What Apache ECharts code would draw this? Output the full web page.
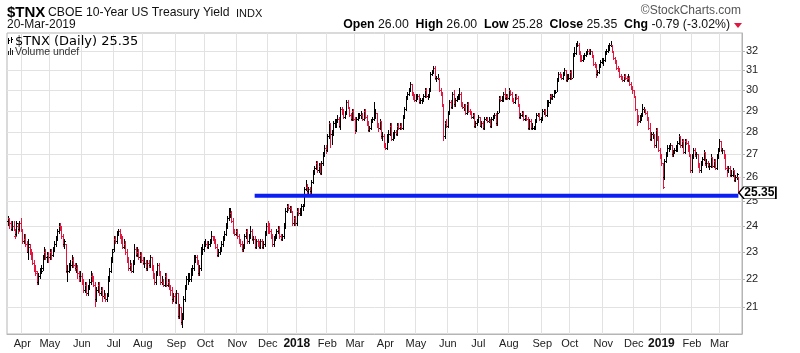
<!DOCTYPE html>
<html><head><meta charset="utf-8">
<script src="https://cdn.jsdelivr.net/npm/echarts@6/dist/echarts.min.js"></script>
<style>html,body{margin:0;padding:0;background:#fff}#c{width:800px;height:353px}</style>
</head><body><div id="c"></div>
<script>
// OHLC bars per month: [open, high, low, close]
const mar17=[[24.2,24.4,24.0,24.3],[24.3,24.3,23.9,24.1],[24.1,24.2,23.8,23.9],[23.9,24.2,23.8,24.0],[24.0,24.2,23.8,23.9],[23.6,23.9,23.5,23.6],[23.7,24.2,23.6,24.1],[24.0,24.1,23.7,23.8],[23.9,24.2,23.8,24.1],[24.1,24.3,23.8,23.9]];
const apr17=[[23.8,23.9,23.3,23.4],[23.4,23.7,23.3,23.5],[23.5,23.7,23.2,23.3],[23.3,23.4,23.0,23.2],[23.0,23.5,22.7,23.3],[23.2,23.3,22.9,23.0],[23.0,23.1,22.7,22.9],[22.9,23.0,22.5,22.6],[22.6,22.7,22.3,22.4],[22.3,22.5,22.1,22.3],[22.2,22.3,21.8,21.9],[21.9,22.2,21.8,22.1],[22.1,22.4,22.0,22.2],[22.3,22.5,22.2,22.3],[22.4,22.9,22.3,22.8],[22.8,23.2,22.7,23.0],[23.0,23.1,22.7,22.8],[22.8,23.0,22.6,22.9],[22.9,23.0,22.6,22.8]];
const may17=[[22.8,23.1,22.7,23.0],[23.0,23.1,22.7,22.9],[22.9,23.2,22.8,23.1],[23.1,23.4,23.0,23.3],[23.3,23.6,23.2,23.5],[23.5,23.9,23.4,23.8],[23.8,24.1,23.7,24.0],[24.0,24.1,23.8,23.9],[23.9,24.0,23.5,23.6],[23.6,23.7,23.2,23.3],[23.3,23.5,23.1,23.4],[23.3,23.3,22.2,22.3],[22.3,22.5,21.9,22.3],[22.3,22.6,22.2,22.4],[22.4,22.7,22.3,22.5],[22.5,22.9,22.4,22.7],[22.7,22.8,22.4,22.5],[22.5,22.6,22.3,22.4],[22.4,22.6,22.2,22.4],[22.4,22.5,22.0,22.2],[22.2,22.3,21.9,22.1],[22.1,22.3,21.9,22.1]];
const jun17=[[22.1,22.2,21.8,21.9],[21.9,22.0,21.5,21.6],[21.6,21.9,21.5,21.8],[21.8,21.9,21.4,21.5],[21.5,21.8,21.4,21.7],[21.7,22.0,21.6,21.9],[21.9,22.3,21.8,22.1],[22.1,22.2,21.9,22.0],[22.0,22.1,21.7,21.8],[21.8,21.9,21.0,21.3],[21.3,21.7,21.2,21.6],[21.6,21.9,21.5,21.8],[21.8,21.9,21.4,21.5],[21.5,21.7,21.4,21.6],[21.6,21.7,21.2,21.4],[21.4,21.6,21.3,21.4],[21.4,21.5,21.2,21.3],[21.3,21.5,21.2,21.4],[21.4,22.1,21.4,22.0],[22.0,22.4,21.9,22.3],[22.3,22.8,22.2,22.7],[22.7,23.1,22.6,23.0]];
const jul17=[[23.1,23.6,23.0,23.5],[23.5,23.6,23.3,23.4],[23.4,23.8,23.3,23.7],[23.7,23.9,23.6,23.8],[23.8,23.9,23.5,23.6],[23.6,23.7,23.3,23.5],[23.5,23.6,23.1,23.2],[23.2,23.5,23.1,23.3],[23.3,23.4,22.9,23.0],[23.0,23.1,22.6,22.7],[22.7,22.8,22.3,22.4],[22.4,22.7,22.3,22.5],[22.5,22.6,22.2,22.3],[22.3,22.7,22.2,22.6],[22.6,23.3,22.5,23.1],[23.1,23.2,22.8,22.9],[22.9,23.2,22.8,23.0],[23.0,23.1,22.7,22.8],[22.8,23.0,22.6,22.9],[22.9,23.0,22.6,22.7]];
const aug17=[[22.7,22.8,22.5,22.6],[22.6,22.8,22.4,22.6],[22.6,22.7,22.3,22.4],[22.4,22.7,22.3,22.6],[22.6,22.7,22.4,22.5],[22.5,22.9,22.4,22.8],[22.8,22.8,22.3,22.4],[22.4,22.5,22.0,22.1],[22.1,22.2,21.8,21.9],[21.9,22.3,21.8,22.2],[22.2,22.6,22.1,22.5],[22.5,22.6,22.1,22.2],[22.2,22.3,21.8,21.9],[21.9,22.1,21.8,21.9],[21.9,22.0,21.7,21.8],[21.8,22.2,21.7,22.1],[22.1,22.2,21.7,21.8],[21.8,22.0,21.7,21.9],[21.9,22.0,21.6,21.7],[21.7,21.8,21.4,21.6],[21.6,21.7,21.1,21.3],[21.3,21.5,21.2,21.4],[21.4,21.5,21.1,21.2]];
const sep17=[[21.2,21.6,21.1,21.5],[21.5,21.5,20.6,20.7],[20.7,21.1,20.6,21.0],[21.0,21.0,20.4,20.5],[20.5,20.8,20.3,20.6],[20.6,21.4,20.6,21.3],[21.3,21.8,21.2,21.7],[21.7,22.1,21.6,22.0],[22.0,22.2,21.8,22.0],[22.0,22.2,21.9,22.0],[22.0,22.4,21.9,22.3],[22.3,22.5,22.1,22.4],[22.4,22.9,22.3,22.8],[22.8,22.9,22.6,22.8],[22.8,22.9,22.5,22.6],[22.6,22.7,22.1,22.2],[22.2,22.5,22.1,22.4],[22.4,23.2,22.3,23.1],[23.1,23.3,22.9,23.1],[23.1,23.4,23.0,23.3]];
const oct17=[[23.3,23.5,23.2,23.3],[23.3,23.4,23.1,23.2],[23.2,23.4,23.1,23.3],[23.3,23.5,23.2,23.4],[23.4,23.8,23.3,23.6],[23.6,23.6,23.4,23.5],[23.5,23.6,23.3,23.4],[23.4,23.5,23.1,23.2],[23.2,23.3,22.8,22.9],[22.9,23.1,22.8,23.0],[23.0,23.2,22.9,23.1],[23.1,23.4,23.0,23.3],[23.3,23.6,23.2,23.5],[23.5,23.8,23.4,23.7],[23.7,24.1,23.6,24.0],[24.0,24.4,23.9,24.3],[24.3,24.7,24.2,24.5],[24.5,24.7,24.3,24.5],[24.5,24.6,24.1,24.2],[24.2,24.3,23.7,23.8],[23.8,23.9,23.6,23.7],[23.7,23.9,23.6,23.8]];
const nov17=[[23.8,23.9,23.5,23.6],[23.6,23.7,23.3,23.4],[23.4,23.5,23.2,23.3],[23.3,23.4,23.0,23.1],[23.1,23.3,23.0,23.2],[23.2,23.7,23.1,23.6],[23.6,23.9,23.5,23.8],[23.8,23.9,23.3,23.4],[23.4,23.7,23.3,23.6],[23.6,24.0,23.5,23.8],[23.8,23.9,23.4,23.5],[23.5,23.6,23.3,23.5],[23.5,23.6,23.1,23.2],[23.2,23.5,23.1,23.4],[23.4,23.5,23.2,23.3],[23.3,23.4,23.1,23.2],[23.2,23.5,23.1,23.4],[23.4,23.5,23.1,23.2],[23.2,23.4,23.1,23.3],[23.3,23.8,23.2,23.7],[23.7,24.1,23.6,24.0]];
const dec17=[[24.0,24.2,23.7,23.9],[23.9,24.1,23.7,23.8],[23.8,23.9,23.5,23.6],[23.6,23.7,23.2,23.3],[23.3,23.6,23.2,23.5],[23.5,23.7,23.4,23.6],[23.6,23.9,23.5,23.8],[23.8,24.0,23.7,23.9],[23.9,24.0,23.5,23.6],[23.6,23.7,23.4,23.5],[23.5,23.7,23.4,23.6],[23.6,24.1,23.5,24.0],[24.0,24.7,23.9,24.6],[24.6,24.9,24.5,24.8],[24.8,24.9,24.6,24.7],[24.7,24.8,24.5,24.7],[24.7,24.8,24.5,24.6],[24.6,24.6,24.0,24.1],[24.1,24.4,24.0,24.3],[24.3,24.4,24.0,24.1]];
const jan18=[[24.1,24.7,24.0,24.6],[24.6,24.7,24.4,24.5],[24.5,24.7,24.4,24.5],[24.5,24.9,24.4,24.8],[24.8,24.9,24.6,24.8],[24.8,25.6,24.8,25.5],[25.5,25.9,25.4,25.6],[25.6,25.7,25.3,25.4],[25.4,25.6,25.3,25.5],[25.5,25.6,25.2,25.4],[25.4,25.9,25.3,25.8],[25.8,26.3,25.7,26.2],[26.2,26.5,26.1,26.4],[26.4,26.7,26.3,26.6],[26.6,26.7,26.2,26.3],[26.3,26.6,26.2,26.5],[26.5,26.6,26.1,26.2],[26.2,26.7,26.1,26.6],[26.6,27.1,26.5,27.0],[27.0,27.4,26.9,27.3],[27.3,27.4,27.0,27.2]];
const feb18=[[27.2,27.9,27.1,27.8],[27.8,28.5,27.7,28.4],[28.4,28.4,27.3,27.9],[27.9,28.1,27.4,27.9],[27.9,28.5,27.8,28.4],[28.4,28.6,28.2,28.4],[28.4,28.6,28.2,28.5],[28.5,28.8,28.4,28.6],[28.6,28.7,28.2,28.3],[28.3,29.2,28.1,29.1],[29.1,29.2,28.8,29.0],[29.0,29.1,28.6,28.7],[28.7,29.0,28.6,28.9],[28.9,29.5,28.8,29.4],[29.4,29.5,29.1,29.2],[29.2,29.2,28.7,28.8],[28.8,28.9,28.5,28.6],[28.6,29.1,28.5,29.0],[29.0,29.1,28.5,28.6]];
const mar18=[[28.6,28.7,27.9,28.1],[28.1,28.7,28.0,28.6],[28.6,28.9,28.5,28.8],[28.8,28.9,28.6,28.8],[28.8,29.0,28.6,28.8],[28.8,28.9,28.5,28.6],[28.6,29.1,28.5,29.0],[29.0,29.1,28.6,28.7],[28.7,28.8,28.3,28.4],[28.4,28.5,28.0,28.1],[28.1,28.3,28.0,28.2],[28.2,28.6,28.1,28.5],[28.5,28.7,28.4,28.6],[28.6,29.4,28.5,28.9],[28.9,29.1,28.6,28.9],[28.9,28.9,28.2,28.3],[28.3,28.4,28.0,28.2],[28.2,28.6,28.1,28.5],[28.5,28.5,27.7,27.8],[27.8,28.0,27.6,27.8],[27.8,27.9,27.3,27.4]];
const apr18=[[27.4,27.5,27.2,27.3],[27.3,27.9,27.2,27.8],[27.8,28.1,27.5,27.9],[27.9,28.4,27.8,28.3],[28.3,28.4,27.6,27.7],[27.7,28.0,27.6,27.8],[27.8,28.1,27.7,28.0],[28.0,28.1,27.8,27.9],[27.9,28.4,27.8,28.3],[28.3,28.4,28.1,28.2],[28.2,28.4,28.1,28.3],[28.3,28.4,28.1,28.2],[28.2,28.8,28.1,28.7],[28.7,29.2,28.6,29.1],[29.1,29.7,29.0,29.6],[29.6,29.9,29.5,29.8],[29.8,30.1,29.7,30.0],[30.0,30.4,29.9,30.3],[30.3,30.3,29.7,29.8],[29.8,29.9,29.5,29.6],[29.6,29.8,29.4,29.5]];
const may18=[[29.5,29.8,29.4,29.7],[29.7,29.8,29.5,29.7],[29.7,29.8,29.3,29.4],[29.4,29.6,29.3,29.5],[29.5,29.6,29.3,29.5],[29.5,29.8,29.4,29.7],[29.7,30.1,29.6,30.0],[30.0,30.1,29.6,29.7],[29.7,29.8,29.5,29.7],[29.7,30.1,29.6,30.0],[30.0,30.9,29.9,30.8],[30.8,31.0,30.7,30.9],[30.9,31.2,30.8,31.1],[31.1,31.2,30.5,30.6],[30.6,30.7,30.4,30.6],[30.6,30.8,30.5,30.6],[30.6,30.6,29.9,30.0],[30.0,30.1,29.7,29.8],[29.8,29.9,29.2,29.3],[29.3,29.3,27.6,27.8],[27.8,28.5,27.7,28.4],[28.4,28.6,28.2,28.3]];
const jun18=[[28.3,29.0,28.2,28.9],[28.9,29.5,28.8,29.4],[29.4,29.5,29.1,29.2],[29.2,29.9,29.1,29.8],[29.8,30.0,29.2,29.3],[29.3,29.6,29.2,29.5],[29.5,29.7,29.4,29.6],[29.6,29.8,29.5,29.6],[29.6,30.1,29.5,29.8],[29.8,29.9,29.2,29.3],[29.3,29.4,29.1,29.2],[29.2,29.3,29.0,29.2],[29.2,29.3,28.8,28.9],[28.9,29.4,28.8,29.3],[29.3,29.4,28.9,29.0],[29.0,29.1,28.8,28.9],[28.9,29.0,28.6,28.7],[28.7,28.9,28.6,28.8],[28.8,28.9,28.2,28.3],[28.3,28.5,28.2,28.4],[28.4,28.6,28.3,28.5]];
const jul18=[[28.5,28.8,28.4,28.7],[28.7,28.7,28.3,28.3],[28.3,28.5,28.2,28.4],[28.4,28.5,28.1,28.2],[28.2,28.7,28.1,28.6],[28.6,28.7,28.5,28.6],[28.6,28.7,28.4,28.5],[28.5,28.7,28.4,28.5],[28.5,28.6,28.2,28.3],[28.3,28.7,28.2,28.6],[28.6,28.8,28.5,28.7],[28.7,28.9,28.6,28.8],[28.8,28.9,28.3,28.4],[28.4,29.0,28.3,28.9],[28.9,29.7,28.9,29.6],[29.6,29.7,29.4,29.5],[29.5,29.7,29.4,29.5],[29.5,29.9,29.4,29.8],[29.8,30.1,29.5,29.6],[29.6,29.8,29.5,29.7],[29.7,29.8,29.5,29.6]];
const aug18=[[29.6,30.1,29.5,30.0],[30.0,30.0,29.7,29.8],[29.8,29.9,29.4,29.5],[29.5,29.6,29.3,29.4],[29.4,29.8,29.3,29.7],[29.7,29.8,29.5,29.6],[29.6,29.7,29.2,29.3],[29.3,29.3,28.6,28.7],[28.7,28.9,28.6,28.8],[28.8,29.0,28.7,28.9],[28.9,29.0,28.5,28.6],[28.6,28.8,28.5,28.7],[28.7,28.8,28.5,28.6],[28.6,28.7,28.1,28.2],[28.2,28.6,28.1,28.5],[28.5,28.6,28.1,28.2],[28.2,28.4,28.1,28.2],[28.2,28.3,28.1,28.2],[28.2,28.6,28.1,28.5],[28.5,28.9,28.4,28.8],[28.8,28.9,28.7,28.8],[28.8,28.9,28.5,28.6],[28.6,28.7,28.4,28.6]];
const sep18=[[28.6,29.1,28.5,29.0],[29.0,29.1,28.8,29.0],[29.0,29.1,28.7,28.8],[28.8,29.5,28.7,29.4],[29.4,29.5,29.2,29.4],[29.4,29.8,29.3,29.7],[29.7,29.8,29.5,29.6],[29.6,29.8,29.5,29.7],[29.7,30.0,29.6,29.9],[29.9,30.0,29.8,29.9],[29.9,30.6,29.9,30.5],[30.5,30.9,30.4,30.8],[30.8,30.9,30.6,30.7],[30.7,30.8,30.5,30.6],[30.6,30.9,30.5,30.8],[30.8,31.1,30.7,31.0],[31.0,31.0,30.4,30.5],[30.5,30.8,30.4,30.6],[30.6,30.8,30.5,30.6]];
const oct18=[[30.6,31.0,30.5,30.9],[30.9,31.0,30.5,30.6],[30.6,31.9,30.6,31.8],[31.8,32.2,31.7,31.9],[31.9,32.4,31.8,32.3],[32.3,32.5,32.2,32.3],[32.3,32.4,31.8,31.9],[31.9,32.0,31.4,31.6],[31.6,31.8,31.4,31.5],[31.5,31.8,31.4,31.6],[31.6,31.9,31.5,31.8],[31.8,32.0,31.7,31.9],[31.9,32.1,31.8,32.0],[32.0,32.1,31.8,31.9],[31.9,32.1,31.8,32.0],[32.0,32.0,31.6,31.7],[31.7,31.8,31.2,31.3],[31.3,31.4,31.1,31.2],[31.2,31.3,30.6,30.8],[30.8,31.0,30.7,30.9],[30.9,31.3,30.8,31.2],[31.2,31.5,31.1,31.4],[31.4,31.6,31.3,31.5]];
const nov18=[[31.5,31.6,31.2,31.5],[31.5,32.0,31.4,31.9],[31.9,32.1,31.8,32.0],[32.0,32.3,31.9,32.2],[32.2,32.4,32.0,32.3],[32.3,32.5,32.2,32.3],[32.3,32.3,31.9,32.0],[32.0,32.0,31.5,31.6],[31.6,31.7,31.3,31.4],[31.4,31.5,31.0,31.1],[31.1,31.2,30.9,31.0],[31.0,31.1,30.6,30.7],[30.7,30.8,30.5,30.6],[30.6,30.7,30.4,30.5],[30.5,30.8,30.4,30.7],[30.7,30.8,30.5,30.6],[30.6,30.7,30.4,30.5],[30.5,30.8,30.4,30.6],[30.6,30.7,30.2,30.3],[30.3,30.4,30.0,30.1],[30.1,30.2,29.8,30.0]];
const dec18=[[30.0,30.0,29.6,29.7],[29.7,29.7,29.0,29.1],[29.1,29.1,28.3,28.7],[28.7,28.8,28.4,28.5],[28.5,28.8,28.4,28.6],[28.6,28.9,28.5,28.8],[28.8,29.3,28.7,29.1],[29.1,29.2,28.9,29.1],[29.1,29.1,28.8,28.9],[28.9,29.0,28.5,28.6],[28.6,28.7,28.1,28.2],[28.2,28.4,27.6,27.7],[27.7,28.0,27.6,27.9],[27.9,28.0,27.7,27.9],[27.9,27.9,27.3,27.4],[27.4,28.2,27.3,28.1],[28.1,28.2,27.6,27.7],[27.7,27.8,27.1,27.2],[27.2,27.3,26.8,26.9]];
const jan19=[[26.9,27.0,26.5,26.6],[26.6,26.6,25.5,25.6],[26.0,26.8,25.9,26.7],[26.7,27.1,26.6,27.0],[27.0,27.4,26.9,27.3],[27.3,27.4,27.1,27.3],[27.3,27.5,27.2,27.4],[27.4,27.4,26.9,27.0],[27.0,27.2,26.9,27.1],[27.1,27.3,27.0,27.2],[27.2,27.4,27.1,27.2],[27.2,27.6,27.1,27.5],[27.5,27.9,27.4,27.8],[27.8,27.8,27.3,27.4],[27.4,27.7,27.3,27.6],[27.6,27.7,27.0,27.1],[27.1,27.7,27.0,27.6],[27.6,27.7,27.4,27.5],[27.5,27.6,27.1,27.2],[27.2,27.4,26.9,27.0],[27.0,27.0,26.2,26.3]];
const feb19=[[26.3,27.0,26.2,26.9],[26.9,27.3,26.8,27.2],[27.2,27.3,26.9,27.0],[27.0,27.1,26.8,27.0],[27.0,27.0,26.4,26.5],[26.5,26.6,26.2,26.3],[26.3,26.7,26.2,26.6],[26.6,26.9,26.5,26.8],[26.8,27.2,26.7,27.1],[27.1,27.1,26.5,26.6],[26.6,26.8,26.4,26.6],[26.6,26.7,26.4,26.5],[26.5,26.6,26.3,26.5],[26.5,27.0,26.4,26.9],[26.9,26.9,26.4,26.5],[26.5,26.8,26.4,26.7],[26.7,26.8,26.3,26.4],[26.4,27.0,26.3,26.9],[26.9,27.3,26.8,27.2]];
const mar19=[[27.2,27.7,27.1,27.6],[27.6,27.6,27.1,27.2],[27.2,27.3,27.0,27.2],[27.2,27.2,26.8,26.9],[26.9,27.0,26.3,26.4],[26.4,26.5,26.0,26.3],[26.3,26.5,26.2,26.4],[26.4,26.5,26.0,26.1],[26.1,26.3,26.0,26.1],[26.1,26.4,26.0,26.3],[26.3,26.3,25.8,25.9],[25.9,26.1,25.8,26.0],[26.0,26.2,25.9,26.14],[26.0,26.0,25.28,25.35]];

const monthKeys=['2017-03','2017-04','2017-05','2017-06','2017-07','2017-08','2017-09','2017-10','2017-11','2017-12','2018-01','2018-02','2018-03','2018-04','2018-05','2018-06','2018-07','2018-08','2018-09','2018-10','2018-11','2018-12','2019-01','2019-02','2019-03'];
const monthBars=[mar17,apr17,may17,jun17,jul17,aug17,sep17,oct17,nov17,dec17,jan18,feb18,mar18,apr18,may18,jun18,jul18,aug18,sep18,oct18,nov18,dec18,jan19,feb19,mar19];
const monthNames={'02':'Feb','03':'Mar','04':'Apr','05':'May','06':'Jun','07':'Jul','08':'Aug','09':'Sep','10':'Oct','11':'Nov','12':'Dec'};
const yTicks=[21,22,23,24,25,26,27,28,29,30,31,32];
const supportLevel=25.22;
const supportStart='2017-11#12';
const lastClose=25.35;

const cats=[], rows=[], closes=[];
monthBars.forEach(function(arr,k){
  arr.forEach(function(b,j){
    const key=monthKeys[k]+'#'+j;
    cats.push(key);
    rows.push([key,b[0],b[1],b[2],b[3]]);
    closes.push(b[3]);
  });
});
const lastKey=cats[cats.length-1];
cats.push('pad#a','pad#b');

const isMonthStart=function(index,value){return index>0 && /#0$/.test(value);};
const FONT='"Liberation Sans", Arial, sans-serif';
const RED='#e3163f';

const chart=echarts.init(document.getElementById('c'),null,{renderer:'canvas'});
chart.setOption({
  animation:false,
  backgroundColor:'#fff',
  grid:{left:7,right:58,top:33,bottom:19,show:true,borderColor:'#b5b5b5',borderWidth:1,backgroundColor:'#fff'},
  xAxis:{
    type:'category',data:cats,boundaryGap:true,
    axisLine:{show:true,lineStyle:{color:'#b5b5b5'}},
    axisTick:{show:false},
    axisLabel:{interval:isMonthStart,fontFamily:FONT,fontSize:11,color:'#222',margin:4,
      formatter:function(v){const m=v.slice(5,7);if(m==='01')return '{y|'+v.slice(0,4)+'}';return monthNames[m]||'';},
      rich:{y:{fontFamily:FONT,fontSize:12,fontWeight:'bold',color:'#111'}}},
    splitLine:{show:true,interval:isMonthStart,lineStyle:{color:'#e2e2e2',width:1}}
  },
  yAxis:{
    type:'log',logBase:10,position:'right',min:20.1,max:32.95,
    axisLine:{show:true,lineStyle:{color:'#b5b5b5'}},
    axisTick:{show:true,customValues:yTicks,length:3,lineStyle:{color:'#b5b5b5'}},
    axisLabel:{customValues:yTicks,fontFamily:FONT,fontSize:11,color:'#222',margin:4},
    splitLine:{show:true,lineStyle:{color:'#e2e2e2',width:1}}
  },
  series:[
    {type:'custom',data:rows,encode:{x:0,y:[1,2,3,4]},clip:true,z:2,
      renderItem:function(params,api){
        const i=params.dataIndex;
        const k=api.value(0);
        const o=api.value(1),h=api.value(2),l=api.value(3),c=api.value(4);
        const pH=api.coord([k,h]),pL=api.coord([k,l]),pO=api.coord([k,o]),pC=api.coord([k,c]);
        const col=Math.round(pH[0]);
        const x=col+0.5;
        const prev=i>0?closes[i-1]:o;
        const color=c>=prev?'#000':RED;
        const yh=Math.round(pH[1]), yl=Math.max(Math.round(pL[1]),yh+1);
        const yo=Math.round(pO[1])+0.5, yc=Math.round(pC[1])+0.5;
        return {type:'group',children:[
          {type:'line',shape:{x1:x,y1:yh,x2:x,y2:yl},style:{stroke:color,lineWidth:1}},
          {type:'line',shape:{x1:col-1,y1:yo,x2:col,y2:yo},style:{stroke:color,lineWidth:1}},
          {type:'line',shape:{x1:col+1,y1:yc,x2:col+2,y2:yc},style:{stroke:color,lineWidth:1}}
        ]};
      }
    },
    {type:'line',data:[[supportStart,supportLevel],[lastKey,supportLevel]],symbol:'none',silent:true,z:3,
      lineStyle:{color:'#0b1ff2',width:4},
      markPoint:{silent:true,symbol:'path://M0,6 L5,0 L37,0 L37,12 L5,12 Z',symbolSize:[37,12],symbolOffset:[19,0],
        itemStyle:{color:'#fff',borderColor:'#000',borderWidth:1},
        label:{show:true,position:'inside',offset:[2,0],formatter:'25.35',fontFamily:FONT,fontSize:12,fontWeight:'bold',color:'#000'},
        data:[{coord:[lastKey,lastClose],value:lastClose}]}
    }
  ],
  graphic:[
    {type:'text',z:100,left:7,top:5,style:{text:'$TNX',font:'bold 15px '+FONT,fill:'#000'}},
    {type:'text',z:100,left:48,top:7,style:{text:'CBOE 10-Year US Treasury Yield',font:'12.2px '+FONT,fill:'#111'}},
    {type:'text',z:100,left:236,top:8,style:{text:'INDX',font:'11px '+FONT,fill:'#111'}},
    {type:'text',z:100,left:7,top:19,style:{text:'20-Mar-2019',font:'12px '+FONT,fill:'#111'}},
    {type:'text',z:100,right:800-741,top:5,style:{text:'\u00A9StockCharts.com',font:'12px '+FONT,fill:'#555'}},
    {type:'text',z:100,right:800-730,top:19,style:{
      text:'{b|Open} 26.00  {b|High} 26.00  {b|Low} 25.28  {b|Close} 25.35  {b|Chg} -0.79 (-3.02%)',
      font:'12.3px '+FONT,fill:'#111',rich:{b:{font:'bold 12.3px '+FONT,fill:'#000'}}}},
    {type:'polygon',z:100,shape:{points:[[734,23],[742,23],[738,28]]},style:{fill:RED}},
    {type:'group',z:100,left:8,top:37,children:[
      {type:'rect',z:100,shape:{x:0,y:1,width:1,height:6},style:{fill:'#000'}},
      {type:'rect',z:100,shape:{x:1,y:3,width:1,height:1},style:{fill:'#000'}},
      {type:'rect',z:100,shape:{x:3,y:0,width:1,height:6},style:{fill:'#000'}},
      {type:'rect',z:100,shape:{x:4,y:2,width:1,height:1},style:{fill:'#000'}}
    ]},
    {type:'text',z:100,left:15,top:35,style:{text:'$TNX (Daily) 25.35',font:'13px "DejaVu Sans", sans-serif',fill:'#000'}},
    {type:'group',z:100,left:8,top:48,children:[
      {type:'rect',z:100,shape:{x:0,y:3,width:1,height:4},style:{fill:'#222'}},
      {type:'rect',z:100,shape:{x:2,y:0,width:1,height:7},style:{fill:'#222'}},
      {type:'rect',z:100,shape:{x:4,y:2,width:1,height:5},style:{fill:'#222'}}
    ]},
    {type:'text',z:100,left:15,top:47,style:{text:'Volume undef',font:'10.5px '+FONT,fill:'#333'}}
  ]
});
</script></body></html>
